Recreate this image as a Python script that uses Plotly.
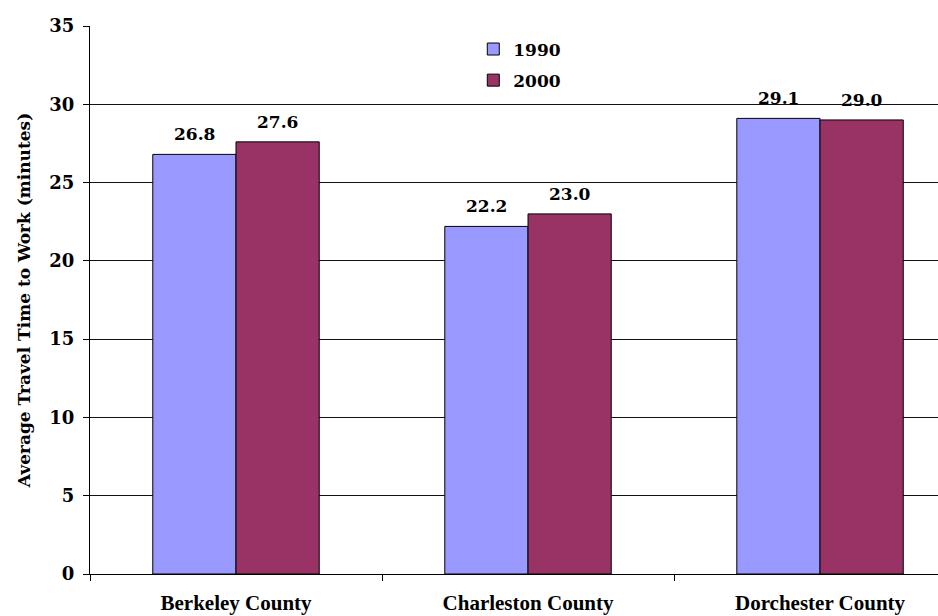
import plotly.graph_objects as go

categories = ["Berkeley County", "Charleston County", "Dorchester County"]
series_names = ["1990", "2000"]
values_1990 = [26.8, 22.2, 29.1]
values_2000 = [27.6, 23.0, 29.0]
y_ticks = [0, 5, 10, 15, 20, 25, 30, 35]

SERIF = "DejaVu Serif"
colors = {"1990": "#9999FF", "2000": "#993366"}

fig = go.Figure()
for name, vals in zip(series_names, [values_1990, values_2000]):
    fig.add_trace(go.Bar(
        name=f"<b>{name}</b>", x=categories, y=vals, legendgroup=name,
        marker=dict(color=colors[name], line=dict(color="black", width=1)),
    ))

# data labels above each bar
BAR_HALF_PX = 41.6
for shift, vals in zip([-BAR_HALF_PX, BAR_HALF_PX], [values_1990, values_2000]):
    for c, v in zip(categories, vals):
        fig.add_annotation(
            x=c, y=v, xref="x", yref="y", text=f"<b>{v:.1f}</b>",
            showarrow=False, xshift=shift, yshift=8, yanchor="bottom",
            font=dict(family=SERIF, size=17, color="black"),
        )

fig.update_layout(
    width=938, height=616,
    margin=dict(l=90, r=0, t=26, b=42),
    paper_bgcolor="white", plot_bgcolor="white",
    barmode="group", bargap=0.43, bargroupgap=0,
    font=dict(family=SERIF, color="black"),
    legend=dict(
        x=0.452, y=0.99, xanchor="left", yanchor="top",
        font=dict(family=SERIF, size=17, color="black"),
        bgcolor="rgba(0,0,0,0)", itemwidth=30, tracegroupgap=6,
    ),
    showlegend=True,
)
fig.update_xaxes(
    range=[-0.5, 2.404],
    showline=True, linecolor="black", linewidth=1,
    ticks="outside", tickson="boundaries", ticklen=6, tickcolor="black",
    tickfont=dict(family="Liberation Serif", size=21, color="black"),
    tickvals=categories, ticktext=[f"<b>{c}</b>" for c in categories],
    ticklabelstandoff=10,
    showgrid=False,
)
fig.update_yaxes(
    range=[0, 35], tickvals=y_ticks, ticktext=[f"<b>{v}</b>" for v in y_ticks],
    showline=True, linecolor="black", linewidth=1,
    ticks="outside", ticklen=6, tickcolor="black",
    tickfont=dict(family=SERIF, size=18, color="black"),
    ticklabelstandoff=5,
    showgrid=True, gridcolor="#111111", gridwidth=1,
    zeroline=False,
    title=dict(text="<b>Average Travel Time to Work (minutes)</b>",
               font=dict(family=SERIF, size=17, color="black"), standoff=14),
)

fig.write_html("out.html")
